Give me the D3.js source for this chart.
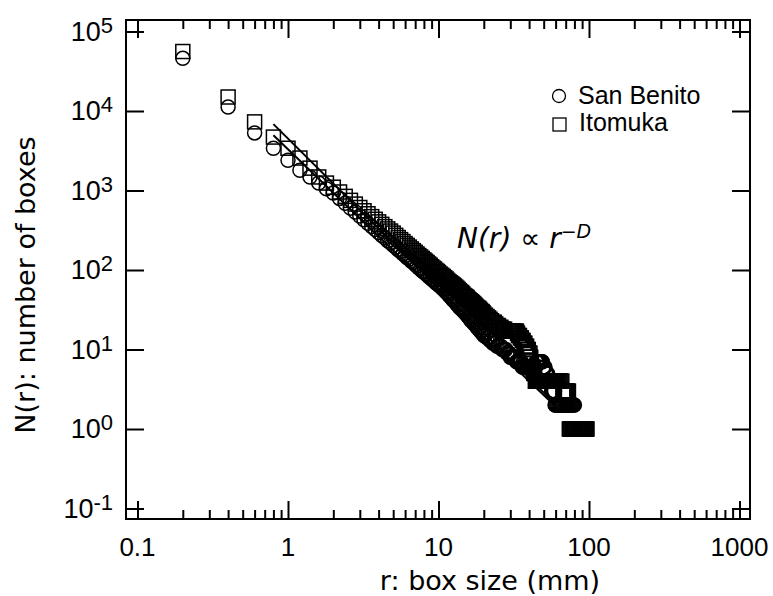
<!DOCTYPE html>
<html>
<head>
<meta charset="utf-8">
<script src="https://cdnjs.cloudflare.com/ajax/libs/d3/7.8.5/d3.min.js"></script>
<style>
  body { margin: 0; background: #fff; }
  .ticklabel { font-family: "Liberation Sans", Arial, sans-serif; fill: #000; }
  .title { font-family: "DejaVu Sans", sans-serif; font-size: 27px; fill: #000; }
  .legend { font-family: "Liberation Sans", Arial, sans-serif; font-size: 25px; fill: #000; }
  .note { font-family: "DejaVu Sans", sans-serif; font-size: 28px; fill: #000; }
</style>
</head>
<body>
<div id="chart"></div>
<script>
// box size r (mm), shared by both series
var boxSizes = [
  0.2, 0.4, 0.6, 0.8, 1.0, 1.2, 1.4, 1.6, 1.8, 2.0,
  2.2, 2.4, 2.6, 2.8, 3.0, 3.2, 3.4, 3.6, 3.8, 4.0,
  4.2, 4.4, 4.6, 4.8, 5.0, 5.2, 5.4, 5.6, 5.8, 6.0,
  6.2, 6.4, 6.6, 6.8, 7.0, 7.2, 7.4, 7.6, 7.8, 8.0,
  8.2, 8.4, 8.6, 8.8, 9.0, 9.2, 9.4, 9.6, 9.8, 10,
  10.25, 10.5, 10.75, 11, 11.25, 11.5, 11.75, 12, 12.25, 12.5,
  12.75, 13, 13.25, 13.5, 13.75, 14, 14.25, 14.5, 14.75, 15,
  15.25, 15.5, 15.75, 16, 16.25, 16.5, 16.75, 17, 17.25, 17.5,
  17.75, 18, 18.25, 18.5, 18.75, 19, 19.25, 19.5, 19.75, 20,
  20.5, 21, 21.5, 22, 22.5, 23, 23.5, 24, 24.5, 25,
  25.5, 26, 26.5, 27, 27.5, 28, 28.5, 29, 29.5, 30,
  30.5, 31, 31.5, 32, 32.5, 33, 33.5, 34, 34.5, 35,
  35.5, 36, 36.5, 37, 37.5, 38, 38.5, 39, 39.5, 40,
  40.5, 41, 41.5, 42, 42.5, 43, 43.5, 44, 44.5, 45,
  45.5, 46, 46.5, 47, 47.5, 48, 48.5, 49, 49.5, 50,
  50.5, 51, 51.5, 52, 52.5, 53, 53.5, 54, 54.5, 55,
  55.5, 56, 56.5, 57, 57.5, 58, 58.5, 59, 59.5, 60,
  61, 62, 63, 64, 65, 66, 67, 68, 69, 70,
  71, 72, 73, 74, 75, 76, 77, 78, 79, 80,
  81, 82, 83, 84, 85, 86, 87, 88, 89, 90,
  91, 92, 93, 94, 95, 96, 97
];

// N(r), San Benito (circles)
var sanBenito = [
  46000, 11200, 5300, 3400, 2400, 1800, 1480, 1240, 1050, 930,
  795, 690, 600, 535, 478, 428, 386, 352, 323, 296,
  272, 254, 234, 220, 204, 193, 180, 171, 160, 152,
  143, 137, 129, 124, 117, 112, 106, 103, 97, 94,
  90, 87, 83, 81, 77, 75, 72, 69, 67, 65,
  63, 61, 58, 56, 53, 51, 48, 46, 44, 42,
  41, 39, 37, 36, 34, 33, 32, 31, 30, 29,
  28, 27, 26, 25, 24, 23, 23, 22, 21, 21,
  20, 19, 19, 18, 18, 17, 17, 16, 16, 15,
  15, 14, 14, 13, 13, 12, 12, 12, 11, 11,
  11, 11, 10, 10, 10, 10, 9, 9, 9, 8,
  8, 8, 8, 8, 8, 7, 7, 7, 7, 7,
  7, 6, 6, 6, 6, 6, 6, 6, 6, 6,
  6, 6, 6, 6, 6, 6, 6, 6, 7, 7,
  7, 7, 7, 7, 7, 7, 7, 7, 6, 6,
  6, 6, 5, 5, 5, 5, 4, 4, 4, 4,
  4, 4, 3, 3, 3, 3, 3, 3, 2, 2,
  2, 2, 2, 2, 2, 2, 2, 2, 2, 2,
  2, 2, 2, 2, 2, 2, 2, 2, 2, 2,
  null, null, null, null, null, null, null, null, null, null,
  null, null, null, null, null, null, null
];

// N(r), Itomuka (squares)
var itomuka = [
  56000, 15000, 7300, 4700, 3400, 2560, 1910, 1480, 1240, 1100,
  958, 844, 752, 675, 611, 556, 510, 469, 434, 403,
  375, 351, 329, 309, 291, 273, 256, 241, 228, 215,
  204, 194, 184, 175, 167, 159, 152, 146, 140, 134,
  129, 124, 119, 115, 110, 106, 103, 99, 96, 93,
  89, 86, 83, 80, 77, 74, 71, 69, 67, 65,
  63, 61, 59, 57, 55, 53, 52, 50, 48, 47,
  46, 45, 43, 42, 41, 40, 39, 38, 37, 36,
  35, 34, 33, 33, 32, 31, 30, 30, 29, 28,
  27, 26, 25, 24, 23, 22, 22, 21, 20, 20,
  19, 19, 18, 18, 18, 17, 17, 17, 17, 17,
  17, 17, 17, 17, 17, 17, 16, 15, 15, 14,
  14, 13, 13, 12, 12, 11, 11, 10, 10, 9,
  9, 8, 7, 6, 6, 5, 5, 4, 4, 4,
  4, 4, 4, 4, 4, 4, 4, 4, 4, 4,
  4, 4, 4, 4, 4, 4, 4, 4, 4, 4,
  4, 4, 4, 4, 4, 4, 4, 4, 4, 4,
  4, 4, 4, 4, 4, 4, 3, 3, 3, 3,
  3, 3, 3, 1, 1, 1, 1, 1, 1, 1,
  1, 1, 1, 1, 1, 1, 1, 1, 1, 1,
  1, 1, 1, 1, 1, 1, 1
];

// power-law fits N = C r^-D
var fitRange = [0.8, 60];
var fitPrefactor = [4500, 3300];
var fitDimension = [1.88, 1.82];

var xTickValues = [0.1, 1, 10, 100, 1000];
var xTickLabels = ["0.1", "1", "10", "100", "1000"];
var yExponents = [-1, 0, 1, 2, 3, 4, 5];

var seriesNames = ["San Benito", "Itomuka"];

var width = 773, height = 596;
var plot = { left: 126, right: 750, top: 20, bottom: 519 };

var svg = d3.select("#chart").append("svg")
    .attr("width", width)
    .attr("height", height);

var x = d3.scaleLog()
    .domain([Math.pow(10, -1.0764), Math.pow(10, 3.0698)])
    .range([plot.left, plot.right]);

var y = d3.scaleLog()
    .domain([Math.pow(10, -1.132), Math.pow(10, 5.1447)])
    .range([plot.bottom, plot.top]);

// minor ticks on x: 2..9 in every decade
var xMinor = [];
xTickValues.slice(0, -1).forEach(function(dec) {
  for (var k = 2; k <= 9; k++) xMinor.push(k * dec);
});
var yMajor = yExponents.map(function(e) { return Math.pow(10, e); });

function tickAxis(axis, values, size) {
  return axis.tickValues(values).tickSize(size).tickSizeOuter(0).tickFormat("");
}

function drawAxis(axis, tx, ty) {
  var g = svg.append("g")
      .attr("transform", "translate(" + tx + "," + ty + ")")
      .call(axis);
  g.select(".domain").remove();
  g.selectAll(".tick line").attr("stroke", "#000").attr("stroke-width", 2);
}

// ticks point inward on all four sides
drawAxis(tickAxis(d3.axisBottom(x), xTickValues, -18), 0, plot.bottom);
drawAxis(tickAxis(d3.axisBottom(x), xMinor, -9), 0, plot.bottom);
drawAxis(tickAxis(d3.axisTop(x), xTickValues, -18), 0, plot.top);
drawAxis(tickAxis(d3.axisTop(x), xMinor, -9), 0, plot.top);
drawAxis(tickAxis(d3.axisLeft(y), yMajor, -18), plot.left, 0);
drawAxis(tickAxis(d3.axisRight(y), yMajor, -18), plot.right, 0);

// frame
svg.append("rect")
    .attr("x", plot.left)
    .attr("y", plot.top)
    .attr("width", plot.right - plot.left)
    .attr("height", plot.bottom - plot.top)
    .attr("fill", "none")
    .attr("stroke", "#000")
    .attr("stroke-width", 2);

// x tick labels
svg.selectAll(".xlabel")
    .data(xTickValues)
    .enter().append("text")
    .attr("class", "ticklabel")
    .attr("x", function(d) { return x(d); })
    .attr("y", plot.bottom + 37)
    .attr("text-anchor", "middle")
    .style("font-size", "26px")
    .text(function(d, i) { return xTickLabels[i]; });

// y tick labels 10^n
var ylab = svg.selectAll(".ylabel")
    .data(yExponents)
    .enter().append("text")
    .attr("class", "ticklabel")
    .attr("x", 113)
    .attr("y", function(d) { return y(Math.pow(10, d)) + 9; })
    .attr("text-anchor", "end");
ylab.append("tspan").style("font-size", "27px").text("10");
ylab.append("tspan").style("font-size", "22px").attr("dy", -8)
    .text(function(d) { return d; });

// axis titles
svg.append("text")
    .attr("class", "title")
    .attr("x", 490)
    .attr("y", 590)
    .attr("text-anchor", "middle")
    .text("r: box size (mm)");

svg.append("text")
    .attr("class", "title")
    .attr("transform", "translate(35,285) rotate(-90)")
    .attr("text-anchor", "middle")
    .text("N(r): number of boxes");

// fit lines
var line = d3.line()
    .x(function(d) { return x(d[0]); })
    .y(function(d) { return y(d[1]); });

fitPrefactor.forEach(function(c, i) {
  var pts = fitRange.map(function(r) { return [r, c * Math.pow(r, -fitDimension[i])]; });
  svg.append("path")
      .attr("d", line(pts))
      .attr("fill", "none")
      .attr("stroke", "#000")
      .attr("stroke-width", 2);
});

// data points
var sbPts = boxSizes.map(function(r, i) { return [r, sanBenito[i]]; })
    .filter(function(d) { return d[1] != null; });
var itPts = boxSizes.map(function(r, i) { return [r, itomuka[i]]; })
    .filter(function(d) { return d[1] != null; });

svg.append("g").selectAll("circle")
    .data(sbPts)
    .enter().append("circle")
    .attr("cx", function(d) { return x(d[0]); })
    .attr("cy", function(d) { return y(d[1]); })
    .attr("r", 7)
    .attr("fill", "none")
    .attr("stroke", "#000")
    .attr("stroke-width", 1.5);

var sq = 14;
svg.append("g").selectAll("rect")
    .data(itPts)
    .enter().append("rect")
    .attr("x", function(d) { return x(d[0]) - sq / 2; })
    .attr("y", function(d) { return y(d[1]) - sq / 2; })
    .attr("width", sq)
    .attr("height", sq)
    .attr("fill", "none")
    .attr("stroke", "#000")
    .attr("stroke-width", 1.5);

// legend
svg.append("circle")
    .attr("cx", 559).attr("cy", 96).attr("r", 6.5)
    .attr("fill", "none").attr("stroke", "#000").attr("stroke-width", 1.3);
svg.append("rect")
    .attr("x", 553).attr("y", 118).attr("width", 13).attr("height", 13)
    .attr("fill", "none").attr("stroke", "#000").attr("stroke-width", 1.3);
svg.append("text").attr("class", "legend").attr("x", 578).attr("y", 104).text(seriesNames[0]);
svg.append("text").attr("class", "legend").attr("x", 579).attr("y", 131).text(seriesNames[1]);

// annotation N(r) ∝ r^-D
var note = svg.append("text").attr("class", "note").attr("x", 457).attr("y", 248);
note.append("tspan").style("font-style", "italic").text("N(r)");
note.append("tspan").text(" \u221D ");
note.append("tspan").style("font-style", "italic").text("r");
note.append("tspan").style("font-style", "italic").style("font-size", "19px")
    .attr("dy", -10).text("\u2212D");
</script>
</body>
</html>
